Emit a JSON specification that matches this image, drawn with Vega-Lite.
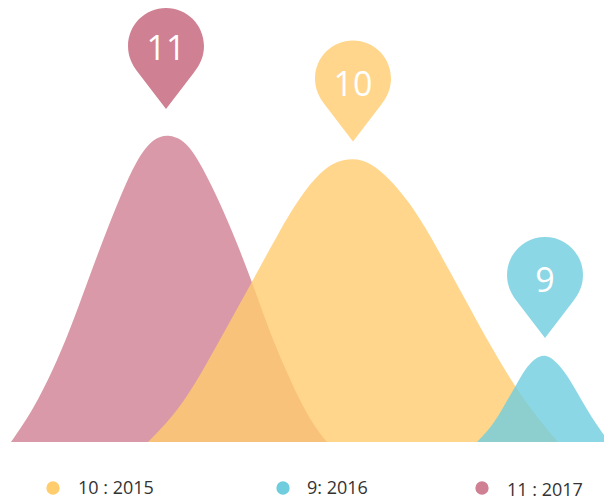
{"$schema":"https://vega.github.io/schema/vega-lite/v6.json","width":604,"height":500,"padding":0,"autosize":{"type":"none"},"background":"white","view":{"stroke":null},
"datasets":{
"curves":[
{"s":"2017","x":11,"y":0},{"s":"2017","x":33,"y":32},{"s":"2017","x":53,"y":72},{"s":"2017","x":70,"y":112},{"s":"2017","x":87,"y":159},{"s":"2017","x":103,"y":202},{"s":"2017","x":120,"y":245},{"s":"2017","x":137,"y":283},{"s":"2017","x":153,"y":304},{"s":"2017","x":170,"y":308},{"s":"2017","x":187,"y":300},{"s":"2017","x":203,"y":274},{"s":"2017","x":220,"y":239},{"s":"2017","x":237,"y":199},{"s":"2017","x":252,"y":160},{"s":"2017","x":270,"y":109},{"s":"2017","x":287,"y":69},{"s":"2017","x":303,"y":35},{"s":"2017","x":317,"y":12},{"s":"2017","x":327,"y":0},
{"s":"2015","x":148,"y":0},{"s":"2015","x":167,"y":19},{"s":"2015","x":187,"y":45},{"s":"2015","x":207,"y":79},{"s":"2015","x":227,"y":115},{"s":"2015","x":252,"y":160},{"s":"2015","x":280,"y":212},{"s":"2015","x":300,"y":245},{"s":"2015","x":320,"y":270},{"s":"2015","x":337,"y":281},{"s":"2015","x":353,"y":284},{"s":"2015","x":370,"y":280},{"s":"2015","x":390,"y":263},{"s":"2015","x":410,"y":239},{"s":"2015","x":430,"y":207},{"s":"2015","x":450,"y":170},{"s":"2015","x":470,"y":134},{"s":"2015","x":490,"y":97},{"s":"2015","x":515,"y":55},{"s":"2015","x":537,"y":25},{"s":"2015","x":558,"y":0},
{"s":"2016","x":477,"y":0},{"s":"2016","x":493,"y":17},{"s":"2016","x":504,"y":36},{"s":"2016","x":515,"y":55},{"s":"2016","x":525,"y":73},{"s":"2016","x":535,"y":84},{"s":"2016","x":545,"y":88},{"s":"2016","x":556,"y":81},{"s":"2016","x":567,"y":67},{"s":"2016","x":577,"y":50},{"s":"2016","x":590,"y":27},{"s":"2016","x":604,"y":7}],
"pins":[{"s":"2017","n":"11","x":166,"y":383.5,"ty":392},{"s":"2015","n":"10","x":353,"y":351,"ty":356},{"s":"2016","n":"9","x":545,"y":154.5,"ty":160}],
"legend":[{"s":"2015","t":"10 : 2015","dx":53,"tx":78,"y":-46,"ty":-47},{"s":"2016","t":"9: 2016","dx":283,"tx":307,"y":-46,"ty":-47},{"s":"2017","t":"11 : 2017","dx":482,"tx":507,"y":-46,"ty":-49}]},
"layer":[
{"data":{"name":"curves"},"mark":{"type":"area","interpolate":"basis","opacity":0.8,"clip":true},"encoding":{"x":{"field":"x","type":"quantitative","scale":{"domain":[0,604],"nice":false},"axis":null},"y":{"field":"y","type":"quantitative","stack":null,"scale":{"domain":[-58,442],"zero":false,"nice":false},"axis":null},"y2":{"datum":0},"color":{"field":"s","type":"nominal","scale":{"domain":["2015","2016","2017"],"range":["#FFCC6E","#6FCDDE","#D08093"]},"legend":null},"order":{"field":"s","type":"nominal"}}},
{"data":{"name":"pins"},"mark":{"type":"point","filled":true,"size":10201,"shape":"M0,1 L-0.55,0.28 C-0.68,0.12 -0.752,-0.05 -0.752,-0.248 A0.752,0.752 0 0 1 0.752,-0.248 C0.752,-0.05 0.68,0.12 0.55,0.28 Z"},"encoding":{"x":{"field":"x","type":"quantitative","scale":{"domain":[0,604],"nice":false}},"y":{"field":"y","type":"quantitative","scale":{"domain":[-58,442],"zero":false,"nice":false}},"color":{"field":"s","type":"nominal"},"opacity":{"condition":{"test":"datum.s === '2017'","value":1},"value":0.8}}},
{"data":{"name":"pins"},"mark":{"type":"text","font":"Open Sans","fontSize":34,"color":"white","baseline":"middle"},"encoding":{"x":{"field":"x","type":"quantitative","scale":{"domain":[0,604],"nice":false}},"y":{"field":"ty","type":"quantitative","scale":{"domain":[-58,442],"zero":false,"nice":false}},"text":{"field":"n"}}},
{"data":{"name":"legend"},"mark":{"type":"point","filled":true,"size":177,"opacity":1},"encoding":{"x":{"field":"dx","type":"quantitative","scale":{"domain":[0,604],"nice":false}},"y":{"field":"y","type":"quantitative","scale":{"domain":[-58,442],"zero":false,"nice":false}},"color":{"field":"s","type":"nominal"}}},
{"data":{"name":"legend"},"mark":{"type":"text","font":"Open Sans","fontSize":18,"color":"#333333","align":"left","baseline":"middle"},"encoding":{"x":{"field":"tx","type":"quantitative","scale":{"domain":[0,604],"nice":false}},"y":{"field":"ty","type":"quantitative","scale":{"domain":[-58,442],"zero":false,"nice":false}},"text":{"field":"t"}}}
]}
